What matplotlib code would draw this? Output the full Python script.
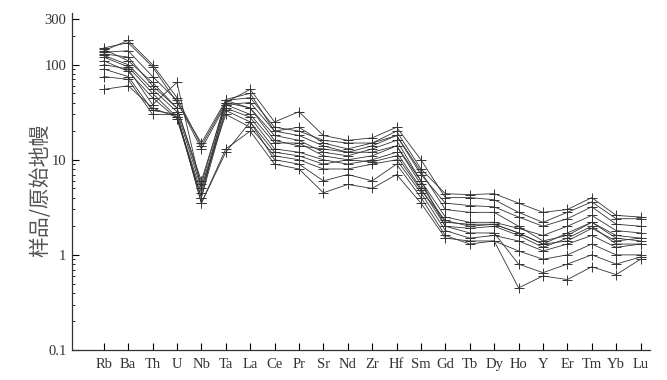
import matplotlib
matplotlib.use("Agg")
import matplotlib.pyplot as plt
from matplotlib.ticker import FixedLocator, NullFormatter, LogLocator

elements = ["Rb", "Ba", "Th", "U", "Nb", "Ta", "La", "Ce", "Pr", "Sr", "Nd", "Zr",
            "Hf", "Sm", "Gd", "Tb", "Dy", "Ho", "Y", "Er", "Tm", "Yb", "Lu"]

s1 = [150, 170, 95, 40, 15, 42, 45, 22, 20, 16, 15, 15, 20, 8, 4.4, 4.3, 4.4, 3.5, 2.8, 3.0, 4.0, 2.6, 2.5]
s2 = [140, 180, 100, 45, 14, 40, 55, 25, 32, 18, 16, 17, 22, 10, 4.0, 4.0, 3.8, 2.8, 2.2, 2.8, 3.6, 2.4, 2.4]
s3 = [135, 140, 75, 42, 13, 38, 40, 20, 18, 14, 12, 14, 18, 7, 3.5, 3.3, 3.2, 2.5, 2.0, 2.4, 3.2, 2.1, 2.0]
s4 = [130, 120, 60, 35, 6, 40, 35, 18, 16, 12, 11, 13, 16, 6, 2.5, 2.2, 2.2, 1.9, 1.6, 2.0, 2.6, 1.8, 1.7]
s5 = [125, 100, 55, 32, 5, 38, 30, 15, 15, 11, 10, 11, 14, 5.5, 2.2, 2.1, 2.1, 1.7, 1.3, 1.7, 2.2, 1.5, 1.4]
s6 = [120, 95, 50, 28, 4.5, 35, 28, 13, 12, 10, 9, 10, 12, 5, 2.0, 1.9, 2.0, 1.6, 1.2, 1.5, 2.0, 1.3, 1.3]
s7 = [110, 85, 45, 27, 4, 33, 25, 12, 11, 9, 10, 9.5, 11, 4.8, 2.3, 2.0, 2.1, 1.7, 1.3, 1.4, 1.9, 1.4, 1.5]
s8 = [100, 90, 38, 65, 5, 30, 22, 11, 10, 8, 8, 9, 10, 4.5, 1.8, 1.5, 1.6, 1.4, 1.1, 1.3, 1.6, 1.2, 1.3]
s9 = [90, 75, 33, 30, 3.5, 12, 25, 10, 9, 6, 7, 6, 9, 4, 1.6, 1.3, 1.4, 1.1, 0.9, 1.0, 1.3, 1.0, 1.0]
s10 = [75, 70, 30, 30, 3.5, 13, 20, 9, 8, 4.5, 5.5, 5, 7, 3.5, 1.5, 1.4, 1.4, 0.45, 0.6, 0.55, 0.75, 0.62, 0.9]
s11 = [55, 60, 35, 28, 4, 42, 35, 16, 14, 13, 12, 12, 14, 6, 2.0, 1.7, 1.7, 0.8, 0.65, 0.8, 1.0, 0.8, 0.95]
s12 = [145, 110, 65, 35, 5.5, 43, 50, 20, 22, 15, 13, 15, 18, 7.5, 3.0, 2.8, 2.8, 2.0, 1.4, 1.6, 2.2, 1.6, 1.5]

samples = [s1, s2, s3, s4, s5, s6, s7, s8, s9, s10, s11, s12]

ytick_vals = [0.1, 1, 10, 100, 300]
ytick_labels = ["0.1", "1", "10", "100", "300"]

fig = plt.figure(figsize=(6.67, 3.8), dpi=100)
ax = fig.add_axes([0.108, 0.079, 0.867, 0.887])

x = list(range(len(elements)))
for s in samples:
    ax.plot(x, s, color="#333333", lw=0.6, marker="+", ms=7, mew=0.7)

ax.set_yscale("log")
ax.set_ylim(0.1, 350)
ax.set_xlim(-1.3, 22.4)

serif = ["Liberation Serif", "DejaVu Serif"]
ax.set_xticks(x)
ax.set_xticklabels(elements, fontfamily=serif, fontsize=10.5, color="#333333")
ax.yaxis.set_major_locator(FixedLocator(ytick_vals))
ax.set_yticklabels(ytick_labels, fontfamily=serif, fontsize=10.5, color="#333333")
ax.yaxis.set_minor_locator(LogLocator(base=10, subs=range(2, 10)))
ax.yaxis.set_minor_formatter(NullFormatter())

ax.tick_params(axis="x", direction="in", length=5, width=0.8, pad=6)
ax.tick_params(axis="y", which="major", direction="in", length=5, width=0.8, pad=4)
ax.tick_params(axis="y", which="minor", direction="in", length=2.5, width=0.6)

for side in ["top", "right"]:
    ax.spines[side].set_visible(False)
for side in ["left", "bottom"]:
    ax.spines[side].set_color("#333333")
    ax.spines[side].set_linewidth(0.9)

ax.set_ylabel("样品/原始地幔", fontfamily=["Noto Sans CJK SC", "DejaVu Sans"],
              fontsize=15, color="#555555")
ax.yaxis.set_label_coords(-0.035, 0.475)

fig.savefig("out.png", dpi=100)
